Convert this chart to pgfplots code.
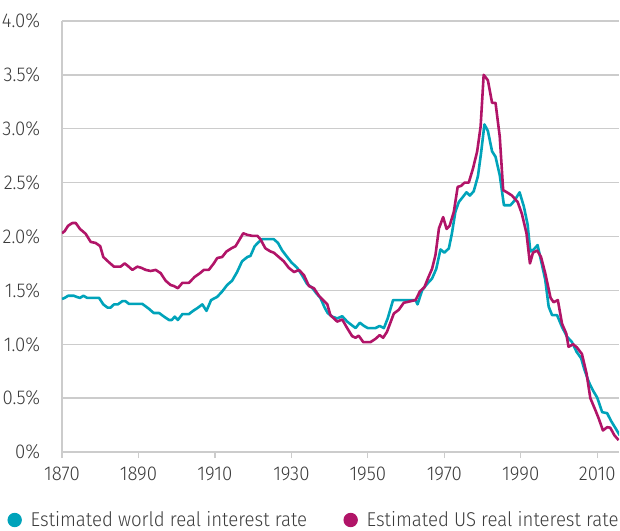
\documentclass[border=0pt]{standalone}
\usepackage{fontspec}
\setmainfont{Fira Sans}[UprightFont=* Light, FakeStretch=0.93]
\usepackage{pgfplots}
\pgfplotsset{compat=1.18}
\definecolor{worldc}{RGB}{0,163,186}
\definecolor{usc}{RGB}{177,20,104}
\definecolor{gridc}{RGB}{204,204,204}
\definecolor{txt}{RGB}{60,60,60}
\begin{document}
\fontsize{20bp}{24bp}\selectfont
\begin{tikzpicture}
\begin{axis}[
  scale only axis,
  width=557bp, height=431bp,
  xmin=1870, xmax=2015.7,
  ymin=0, ymax=4,
  axis lines=left,
  axis line style={-, draw=gridc, line width=1.3bp},
  xtick={1870,1890,1910,1930,1950,1970,1990,2010},
  xticklabels={1870,1890,1910,1930,1950,1970,1990,2010},
  ytick={0,0.5,1,1.5,2,2.5,3,3.5,4},
  yticklabels={0\%,0.5\%,1.0\%,1.5\%,2.0\%,2.5\%,3.0\%,3.5\%,4.0\%},
  ymajorgrids,
  grid style={draw=gridc, line width=1.3bp},
  tick align=outside,
  major tick length=6bp,
  xtick style={draw=gridc, line width=1.3bp},
  ytick style={draw=none},
  tick label style={font=\fontsize{20bp}{24bp}\selectfont, text=txt},
  yticklabel style={xshift=-9bp},
  xticklabel style={yshift=-2bp},
  legend columns=2,
  legend style={draw=none, fill=none, at={(0,0)}, anchor=west, xshift=-55bp, yshift=-68bp,
    font=\fontsize{20bp}{24bp}\selectfont, text=txt, inner sep=0pt,
    /tikz/every even column/.append style={column sep=34bp}},
  legend image code/.code={\fill[#1, draw=none] (7.5bp,0bp) circle (7.2bp); \path[draw=none, fill=none] (0bp,0bp) -- (21.5bp,0bp);},
]
\addplot[worldc, line width=2.6bp, line join=round] coordinates {
(1870,1.42)(1870.7,1.43)(1871.6,1.45)(1873.1,1.45)(1873.8,1.44)(1874.7,1.43)(1875.6,1.45)(1876.6,1.43)(1879.7,1.43)(1880.8,1.37)(1881.9,1.34)(1882.7,1.34)(1883.6,1.37)(1884.6,1.37)(1885.8,1.40)(1886.6,1.40)(1887.5,1.375)(1891,1.375)(1892.7,1.33)(1894,1.29)(1895.4,1.29)(1896.7,1.256)(1898,1.225)(1898.7,1.225)(1899.5,1.256)(1900.3,1.225)(1901.5,1.28)(1903.2,1.28)(1904.3,1.31)(1905.6,1.34)(1906.7,1.37)(1907.8,1.31)(1909,1.41)(1910.6,1.44)(1911.9,1.49)(1913.2,1.55)(1914.5,1.59)(1915.8,1.67)(1917.1,1.77)(1918.5,1.81)(1919.3,1.82)(1920.4,1.91)(1921.5,1.95)(1922.4,1.975)(1925.4,1.975)(1926.5,1.94)(1927.6,1.87)(1928.9,1.81)(1930,1.76)(1931.5,1.71)(1932.8,1.64)(1934.1,1.56)(1935.4,1.525)(1936.6,1.47)(1937.6,1.43)(1938.7,1.34)(1939.5,1.29)(1940.7,1.256)(1942,1.24)(1943.3,1.26)(1944.6,1.21)(1946.8,1.15)(1947.9,1.20)(1949,1.17)(1950,1.15)(1952,1.15)(1953.1,1.17)(1954.2,1.15)(1955.2,1.24)(1956.6,1.41)(1962.5,1.41)(1963,1.37)(1964.2,1.50)(1965.5,1.56)(1966.8,1.61)(1967.9,1.70)(1969,1.88)(1970,1.85)(1971.2,1.89)(1972,2.03)(1972.9,2.23)(1973.8,2.32)(1974.7,2.36)(1975.8,2.41)(1976.7,2.38)(1977.7,2.42)(1978.8,2.56)(1979.6,2.77)(1980.5,3.04)(1981.4,2.98)(1982.5,2.79)(1983.4,2.74)(1984.5,2.57)(1985.6,2.29)(1987.3,2.29)(1988.3,2.33)(1989.7,2.41)(1990.8,2.28)(1991.8,2.11)(1992.5,1.86)(1993.4,1.88)(1994.4,1.92)(1995.6,1.73)(1996.4,1.60)(1997.3,1.35)(1998.2,1.27)(1999.5,1.27)(2000.8,1.16)(2002.1,1.07)(2003.4,1.02)(2004.6,0.93)(2005.8,0.87)(2006.6,0.77)(2007.8,0.65)(2008.9,0.57)(2010,0.505)(2011.3,0.37)(2012.6,0.36)(2013.6,0.29)(2014.8,0.22)(2015.9,0.155)
};
\addlegendentry{Estimated world real interest rate}
\addplot[usc, line width=2.6bp, line join=round] coordinates {
(1870,2.03)(1870.7,2.05)(1871.6,2.10)(1872.7,2.125)(1873.6,2.125)(1874.7,2.07)(1876.2,2.025)(1877.5,1.95)(1878.8,1.94)(1880,1.91)(1880.8,1.81)(1882.3,1.76)(1883.6,1.72)(1885.3,1.72)(1886.4,1.75)(1887.3,1.725)(1888.4,1.69)(1889.7,1.72)(1890.7,1.71)(1891.9,1.69)(1893.2,1.68)(1894.5,1.69)(1895.8,1.66)(1897.1,1.59)(1898.4,1.55)(1899.3,1.54)(1900.3,1.52)(1901.5,1.57)(1903.2,1.57)(1904.7,1.625)(1906.1,1.66)(1907.1,1.69)(1908.4,1.69)(1909.7,1.75)(1910.6,1.80)(1911.9,1.81)(1913,1.86)(1914.3,1.89)(1915.4,1.91)(1916.5,1.975)(1917.4,2.03)(1918.5,2.015)(1919.8,2.006)(1921.1,2.006)(1921.9,1.975)(1923.2,1.89)(1924.6,1.86)(1925.4,1.85)(1926.7,1.81)(1928,1.77)(1929.3,1.71)(1930.7,1.67)(1932,1.69)(1933.3,1.64)(1934.6,1.54)(1935.9,1.52)(1937.2,1.45)(1938.3,1.41)(1939.4,1.37)(1940.2,1.27)(1942,1.21)(1943.3,1.23)(1944.6,1.15)(1945.9,1.075)(1946.8,1.06)(1947.6,1.08)(1948.8,1.02)(1950.7,1.02)(1952,1.05)(1953.1,1.085)(1954,1.06)(1955,1.115)(1956.8,1.285)(1958.1,1.32)(1959.4,1.385)(1962.5,1.41)(1963.6,1.49)(1964.8,1.53)(1965.7,1.61)(1966.8,1.70)(1967.7,1.83)(1968.6,2.075)(1969.7,2.18)(1970.6,2.07)(1971.4,2.10)(1972.5,2.23)(1973.5,2.46)(1974.4,2.47)(1975.3,2.50)(1976.4,2.50)(1977.5,2.63)(1978.6,2.79)(1979.5,3.02)(1980.3,3.50)(1981.4,3.45)(1982.5,3.24)(1983.4,3.24)(1984.5,2.93)(1985.4,2.43)(1986.4,2.41)(1987.7,2.38)(1989.2,2.32)(1990.3,2.21)(1991.5,2.03)(1992.4,1.75)(1993.2,1.85)(1994.3,1.87)(1995.3,1.81)(1996.4,1.66)(1997.8,1.43)(1998.6,1.39)(1999.7,1.41)(2000.8,1.19)(2001.9,1.10)(2002.5,0.976)(2003.7,1.00)(2004.7,0.97)(2006,0.91)(2007.2,0.73)(2008.2,0.50)(2009.5,0.39)(2010.4,0.31)(2011.5,0.20)(2012.6,0.23)(2013.4,0.226)(2014.5,0.155)(2015.6,0.11)
};
\addlegendentry{Estimated US real interest rate}
\end{axis}
\pgfresetboundingbox
\path[use as bounding box] (current axis.origin) ++(-62bp,-79bp) rectangle ++(620bp,531bp);
\end{tikzpicture}
\end{document}
